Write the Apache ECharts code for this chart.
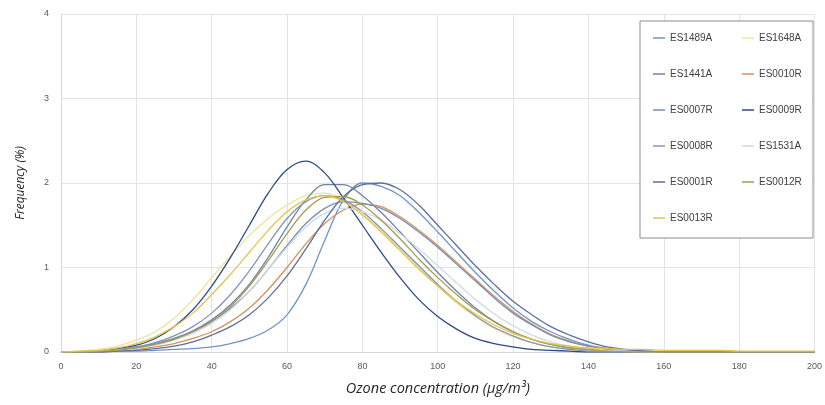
<!DOCTYPE html>
<html>
<head>
<meta charset="utf-8">
<script src="https://cdn.jsdelivr.net/npm/echarts@6/dist/echarts.min.js"></script>
<style>html,body{margin:0;padding:0;background:#fff}#c{width:825px;height:405px}</style>
</head>
<body>
<div id="c"></div>
<script>
// x positions (µg/m³), every 5 units
const xValues = [0,5,10,15,20,25,30,35,40,45,50,55,60,65,70,75,80,85,90,95,100,105,110,115,120,125,130,135,140,145,150,155,160,165,170,175,180,185,190,195,200];
const xTicks = [0,20,40,60,80,100,120,140,160,180,200];
const yTicks = [0,1,2,3,4];

const seriesNames = ['ES1489A','ES1648A','ES1441A','ES0010R','ES0007R','ES0009R','ES0008R','ES1531A','ES0001R','ES0012R','ES0013R'];

const ES1489A = [0,0,0,0.01,0.01,0.02,0.03,0.04,0.06,0.1,0.16,0.26,0.44,0.8,1.32,1.8,2.0,1.96,1.85,1.65,1.42,1.18,0.94,0.72,0.52,0.36,0.24,0.15,0.08,0.04,0.02,0.01,0,0,0,0,0,0,0,0,0];
const ES1648A = [0,0.01,0.03,0.07,0.14,0.24,0.4,0.62,0.88,1.14,1.38,1.58,1.74,1.85,1.88,1.8,1.64,1.44,1.22,1.0,0.78,0.58,0.42,0.28,0.18,0.11,0.06,0.03,0.02,0.01,0,0,0,0,0,0,0,0,0,0,0];
const ES1441A = [0,0,0.01,0.03,0.06,0.1,0.16,0.25,0.38,0.56,0.8,1.12,1.48,1.8,1.98,1.98,1.85,1.65,1.42,1.18,0.94,0.72,0.52,0.36,0.24,0.15,0.09,0.05,0.03,0.01,0,0,0,0,0,0,0,0,0,0,0];
const ES0010R = [0,0,0,0.01,0.03,0.06,0.1,0.16,0.24,0.36,0.52,0.74,1.0,1.28,1.52,1.68,1.75,1.72,1.6,1.44,1.26,1.06,0.86,0.66,0.48,0.33,0.21,0.13,0.07,0.04,0.02,0.01,0,0,0,0,0,0,0,0,0];
const ES0007R = [0,0,0.01,0.02,0.05,0.09,0.15,0.24,0.36,0.52,0.72,0.98,1.26,1.52,1.7,1.78,1.76,1.7,1.58,1.42,1.24,1.04,0.84,0.64,0.46,0.32,0.2,0.12,0.07,0.03,0.01,0,0,0,0,0,0,0,0,0,0];
const ES0009R = [0,0,0.01,0.04,0.08,0.16,0.3,0.5,0.78,1.12,1.5,1.88,2.16,2.26,2.12,1.82,1.5,1.18,0.88,0.62,0.42,0.27,0.16,0.1,0.06,0.03,0.02,0.01,0,0,0,0,0,0,0,0,0,0,0,0,0];
const ES0008R = [0,0,0.01,0.03,0.06,0.11,0.19,0.3,0.46,0.68,0.96,1.28,1.58,1.78,1.85,1.8,1.66,1.46,1.24,1.02,0.8,0.6,0.43,0.29,0.19,0.11,0.06,0.03,0.01,0,0,0,0,0,0,0,0,0,0,0,0];
const ES1531A = [0,0,0.01,0.02,0.04,0.08,0.14,0.22,0.34,0.5,0.72,0.98,1.24,1.48,1.64,1.7,1.66,1.56,1.4,1.22,1.02,0.82,0.62,0.45,0.31,0.2,0.12,0.07,0.04,0.02,0.01,0,0,0,0,0,0,0,0,0,0];
const ES0001R = [0,0,0,0.01,0.02,0.04,0.07,0.12,0.2,0.3,0.44,0.64,0.9,1.22,1.56,1.84,1.98,2.0,1.92,1.74,1.5,1.26,1.02,0.8,0.6,0.44,0.3,0.2,0.12,0.06,0.03,0.01,0,0,0,0,0,0,0,0,0];
const ES0012R = [0,0,0.01,0.02,0.05,0.09,0.15,0.24,0.36,0.54,0.78,1.08,1.4,1.68,1.83,1.84,1.74,1.56,1.34,1.1,0.88,0.68,0.5,0.36,0.24,0.15,0.09,0.05,0.03,0.01,0,0,0,0,0,0,0,0,0,0,0];
const ES0013R = [0,0.01,0.02,0.05,0.1,0.18,0.3,0.46,0.68,0.92,1.18,1.44,1.66,1.8,1.85,1.78,1.62,1.42,1.2,0.98,0.78,0.6,0.45,0.32,0.22,0.15,0.1,0.07,0.05,0.04,0.03,0.03,0.02,0.02,0.02,0.02,0.01,0.01,0.01,0.01,0.01];

const seriesValues = [ES1489A,ES1648A,ES1441A,ES0010R,ES0007R,ES0009R,ES0008R,ES1531A,ES0001R,ES0012R,ES0013R];
const seriesColors = ['#6f95c8','#ece39a','#6e84a8','#d4915a','#7a8db0','#2e4a87','#8396b8','#cfd9e8','#5c6fa0','#a59c4e','#e3c44a'];

const chart = echarts.init(document.getElementById('c'), null, {renderer:'canvas'});
const series = seriesNames.map((n,i)=>({
  name:n, type:'line', smooth:0.35, showSymbol:false, symbol:'none',
  data: xValues.map((x,j)=>[x, seriesValues[i][j]]),
  lineStyle:{width:1.3, color:seriesColors[i]},
  itemStyle:{color:seriesColors[i]},
  z: 2
}));
chart.setOption({
  animation:false,
  backgroundColor:'#ffffff',
  grid:{left:61, right:9, top:14, bottom:53, containLabel:false},
  xAxis:{
    type:'value', min:0, max:200, interval:20,
    axisLine:{lineStyle:{color:'#d9d9d9'}},
    axisTick:{show:false},
    splitLine:{show:true, lineStyle:{color:'#e4e4e4', width:1}},
    axisLabel:{color:'#595959', fontSize:9, margin:10, fontFamily:'Liberation Sans Narrow, Liberation Sans, sans-serif',
      formatter:v=> xTicks.includes(v)? String(v):''},
    name:'Ozone concentration (µg/m³)', nameLocation:'middle', nameGap:29,
    nameTextStyle:{fontSize:14.5, fontStyle:'italic', color:'#262626', fontFamily:'Open Sans, sans-serif'}
  },
  yAxis:{
    type:'value', min:0, max:4, interval:1,
    axisLine:{show:true, lineStyle:{color:'#d9d9d9'}},
    axisTick:{show:false},
    splitLine:{show:true, lineStyle:{color:'#e4e4e4', width:1}},
    axisLabel:{color:'#595959', fontSize:9, margin:12, fontFamily:'Liberation Sans Narrow, Liberation Sans, sans-serif',
      formatter:v=> yTicks.includes(v)? String(v):''},
    name:'Frequency (%)', nameLocation:'middle', nameGap:34,
    nameTextStyle:{fontSize:12, fontStyle:'italic', color:'#262626', fontFamily:'Open Sans, sans-serif'}
  },
  legend:{
    data:seriesNames,
    left:640, top:21,
    width:160,
    orient:'horizontal',
    icon:'rect', itemWidth:12, itemHeight:1.5,
    itemGap:24,
    padding:[11,6,14,13],
    borderColor:'#8c8c8c', borderWidth:1,
    backgroundColor:'#ffffff',
    textStyle:{fontSize:10, color:'#404040', width:48, lineHeight:12, fontFamily:'Liberation Sans Narrow, Liberation Sans, sans-serif'}
  },
  series
});
</script>
</body>
</html>
